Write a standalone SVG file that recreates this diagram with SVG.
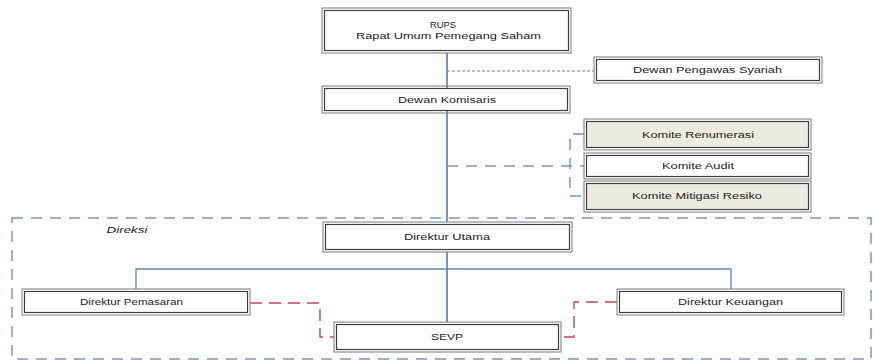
<svg xmlns="http://www.w3.org/2000/svg" width="873" height="362" viewBox="0 0 873 362">
  <style>
    .bg { fill: #ffffff; }
    .box-out { fill: none; stroke: #7a7a7a; stroke-width: 1; }
    .box-in { stroke: #3f3f3f; stroke-width: 1.2; }
    .plain { fill: #ffffff; }
    .tint { fill: #ecebdf; }
    .lbl { font-family: "Liberation Sans", Arial, sans-serif; font-size: 8.5px; fill: #222222; text-anchor: middle; }
    .solid { fill: none; stroke: #5f86b6; stroke-width: 1.7; }
    .thin { fill: none; stroke: #5f86b6; stroke-width: 1.3; }
    .fine-dash { fill: none; stroke: #5f86b6; stroke-width: 1; stroke-dasharray: 3 2; }
    .long-dash { fill: none; stroke: #7399c4; stroke-width: 1.5; stroke-dasharray: 11 8; }
    .red-dash { fill: none; stroke: #c9484a; stroke-width: 1.4; stroke-dasharray: 12 7; }
  </style>

  <rect class="bg" x="0" y="0" width="873" height="362"/>

  <!-- Direksi boundary -->
  <g id="direksi-frame">
    <rect class="long-dash" x="12" y="218" width="859" height="141"/>
    <text class="lbl" x="127" y="233" font-style="italic" textLength="41" lengthAdjust="spacingAndGlyphs">Direksi</text>
  </g>

  <!-- connectors -->
  <g id="connectors">
    <!-- main spine -->
    <path class="solid" d="M447 53 V222"/>
    <path class="solid" d="M447 252 V322"/>
    <!-- directors bar -->
    <path class="thin" d="M136 289 V269 H731 V289"/>
    <!-- sharia board -->
    <path class="fine-dash" d="M447 71 H594"/>
    <!-- committees -->
    <path class="long-dash" d="M447 166 H584"/>
    <path class="long-dash" d="M584 134 H570 V196 H584"/>
    <!-- SEVP coordination -->
    <path class="red-dash" d="M250 303 H320 V337 H334"/>
    <path class="red-dash" d="M617 302 H574 V337 H561"/>
  </g>

  <g id="rups">
    <rect class="box-out" x="322" y="8" width="249" height="45"/>
    <rect class="box-in plain" x="324.5" y="10.5" width="244" height="40"/>
    <text class="lbl" x="443" y="27.5" textLength="26" lengthAdjust="spacingAndGlyphs">RUPS</text>
    <text class="lbl" x="448.5" y="39" textLength="185" lengthAdjust="spacingAndGlyphs">Rapat Umum Pemegang Saham</text>
  </g>

  <g id="dewan-komisaris">
    <rect class="box-out" x="322" y="86" width="248" height="27"/>
    <rect class="box-in plain" x="324.5" y="88.5" width="243" height="22"/>
    <text class="lbl" x="447" y="102.5" textLength="98" lengthAdjust="spacingAndGlyphs">Dewan Komisaris</text>
  </g>

  <g id="dewan-pengawas-syariah">
    <rect class="box-out" x="594" y="57" width="228" height="26"/>
    <rect class="box-in plain" x="596.5" y="59.5" width="223" height="21"/>
    <text class="lbl" x="707.5" y="73" textLength="149" lengthAdjust="spacingAndGlyphs">Dewan Pengawas Syariah</text>
  </g>

  <g id="komite-renumerasi">
    <rect class="box-out" x="584" y="119" width="227" height="31"/>
    <rect class="box-in tint" x="586.5" y="121.5" width="222" height="26"/>
    <text class="lbl" x="698" y="137.5" textLength="112" lengthAdjust="spacingAndGlyphs">Komite Renumerasi</text>
  </g>

  <g id="komite-audit">
    <rect class="box-out" x="584" y="153" width="227" height="26"/>
    <rect class="box-in plain" x="586.5" y="155.5" width="222" height="21"/>
    <text class="lbl" x="698" y="169" textLength="72" lengthAdjust="spacingAndGlyphs">Komite Audit</text>
  </g>

  <g id="komite-mitigasi-resiko">
    <rect class="box-out" x="584" y="181" width="227" height="31"/>
    <rect class="box-in tint" x="586.5" y="183.5" width="222" height="26"/>
    <text class="lbl" x="697" y="199" textLength="130" lengthAdjust="spacingAndGlyphs">Komite Mitigasi Resiko</text>
  </g>

  <g id="direktur-utama">
    <rect class="box-out" x="323" y="222" width="249" height="30"/>
    <rect class="box-in plain" x="325.5" y="224.5" width="244" height="25"/>
    <text class="lbl" x="447" y="239.5" textLength="86" lengthAdjust="spacingAndGlyphs">Direktur Utama</text>
  </g>

  <g id="direktur-pemasaran">
    <rect class="box-out" x="22" y="289" width="228" height="26"/>
    <rect class="box-in plain" x="24.5" y="291.5" width="223" height="21"/>
    <text class="lbl" x="131.5" y="305" textLength="103" lengthAdjust="spacingAndGlyphs">Direktur Pemasaran</text>
  </g>

  <g id="direktur-keuangan">
    <rect class="box-out" x="617" y="289" width="227" height="26"/>
    <rect class="box-in plain" x="619.5" y="291.5" width="222" height="21"/>
    <text class="lbl" x="730.5" y="305" textLength="105" lengthAdjust="spacingAndGlyphs">Direktur Keuangan</text>
  </g>

  <g id="sevp">
    <rect class="box-out" x="334" y="322" width="227" height="30"/>
    <rect class="box-in plain" x="336.5" y="324.5" width="222" height="25"/>
    <text class="lbl" x="447" y="340" textLength="32" lengthAdjust="spacingAndGlyphs">SEVP</text>
  </g>
</svg>
